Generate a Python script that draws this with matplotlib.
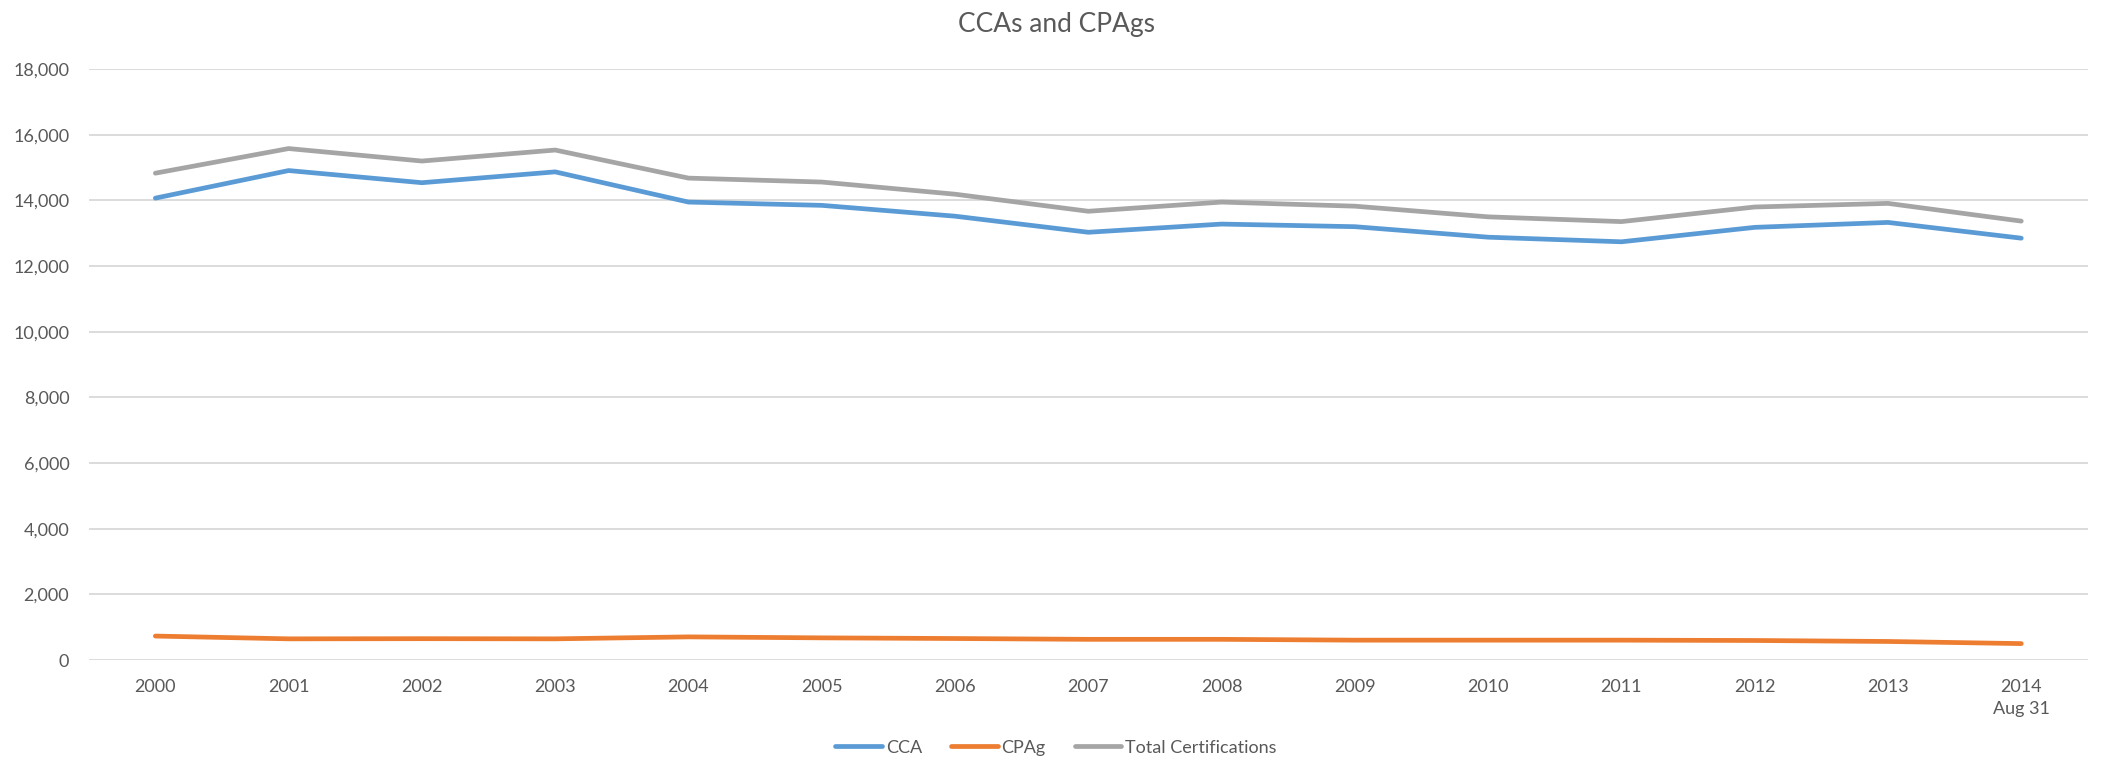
import numpy as np
import matplotlib.pyplot as plt
from matplotlib.ticker import FuncFormatter

plt.rcParams['font.family'] = ['Liberation Sans Narrow', 'Lato', 'DejaVu Sans']

years = ['2000', '2001', '2002', '2003', '2004', '2005', '2006', '2007',
         '2008', '2009', '2010', '2011', '2012', '2013', '2014\nAug 31']
cca = [14070, 14910, 14540, 14870, 13950, 13850, 13520, 13030,
       13280, 13200, 12880, 12740, 13180, 13330, 12850]
cpag = [730, 645, 650, 645, 705, 675, 655, 630,
        630, 605, 605, 605, 595, 565, 500]
total = [14830, 15580, 15200, 15535, 14680, 14560, 14190, 13670,
         13950, 13825, 13500, 13355, 13800, 13910, 13370]

fig = plt.figure(figsize=(21.12, 7.68), dpi=100)
ax = fig.add_axes([0.042, 0.1406, 0.9466, 0.7694])

x = np.arange(len(years))
ax.plot(x, cca, color='#5B9BD5', lw=3.4, solid_capstyle='round', label='CCA')
ax.plot(x, cpag, color='#ED7D31', lw=3.4, solid_capstyle='round', label='CPAg')
ax.plot(x, total, color='#A5A5A5', lw=3.4, solid_capstyle='round',
        label='Total Certifications')

ax.set_xlim(-0.5, len(years) - 0.5)
ax.set_ylim(0, 18000)
ax.set_yticks(np.arange(0, 18001, 2000))
ax.yaxis.set_major_formatter(FuncFormatter(lambda v, p: f'{int(v):,}'))
ax.set_xticks(x)
ax.set_xticklabels(years, linespacing=1.45)
ax.tick_params(axis='both', length=0, labelsize=13, labelcolor='#595959')
ax.tick_params(axis='y', pad=14)
ax.tick_params(axis='x', pad=14)
ax.grid(axis='y', color='#D9D9D9', lw=1.3)
ax.set_axisbelow(True)
for s in ax.spines.values():
    s.set_visible(False)

fig.suptitle('CCAs and CPAgs', y=0.985, fontsize=19, color='#595959')
fig.legend(loc='lower center', ncol=3, frameon=False, fontsize=13,
           labelcolor='#595959', handlelength=2.6, handletextpad=0.2,
           columnspacing=1.6, bbox_to_anchor=(0.5, -0.005))

fig.savefig('out.png', dpi=100)
